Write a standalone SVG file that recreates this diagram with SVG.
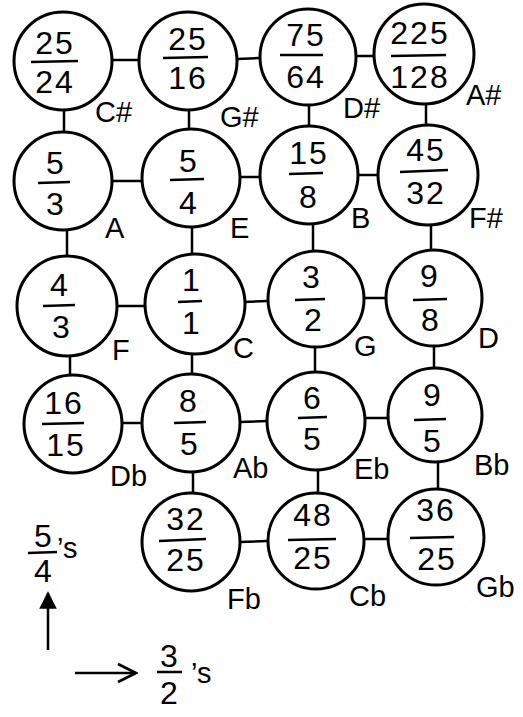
<svg xmlns="http://www.w3.org/2000/svg" width="523" height="717" viewBox="0 0 523 717">
<style>
.n circle{fill:#fff;stroke:#000;stroke-width:3}
.n line,.leg line{stroke:#000;stroke-width:2.5}
.f{font-family:"Liberation Sans",Arial,sans-serif;font-size:32px;text-anchor:middle;fill:#000;letter-spacing:2px}
.l{font-family:"Liberation Sans",Arial,sans-serif;font-size:29px;fill:#000}
#edges line{stroke:#000;stroke-width:2.5}
</style>
<defs>
<marker id="tri" viewBox="0 0 10 10" refX="9" refY="5" markerWidth="7" markerHeight="7" orient="auto" markerUnits="strokeWidth">
<path d="M0,0 L10,5 L0,10 Z" fill="#000"/>
</marker>
<marker id="open" viewBox="0 0 10 10" refX="9" refY="5" markerWidth="9" markerHeight="9" orient="auto" markerUnits="strokeWidth">
<path d="M1,1 L9,5 L1,9" fill="none" stroke="#000" stroke-width="1.2"/>
</marker>
</defs>
<rect width="523" height="717" fill="#fff"/>
<g id="edges">
<line x1="112" y1="60" x2="139" y2="60"/>
<line x1="237" y1="59" x2="259" y2="58"/>
<line x1="357" y1="56" x2="375" y2="56"/>
<line x1="112" y1="181" x2="142" y2="181"/>
<line x1="240" y1="177" x2="260" y2="177"/>
<line x1="358" y1="175" x2="379" y2="175"/>
<line x1="116" y1="306" x2="146" y2="306"/>
<line x1="244" y1="302" x2="267" y2="301"/>
<line x1="365" y1="298" x2="385" y2="298"/>
<line x1="122" y1="423" x2="142" y2="423"/>
<line x1="240" y1="422" x2="267" y2="421"/>
<line x1="365" y1="418" x2="388" y2="418"/>
<line x1="240" y1="542" x2="267" y2="541"/>
<line x1="364" y1="539" x2="388" y2="539"/>
<line x1="64" y1="109" x2="64" y2="133"/>
<line x1="67" y1="229" x2="67" y2="257"/>
<line x1="70" y1="354" x2="70" y2="376"/>
<line x1="189" y1="109" x2="189" y2="130"/>
<line x1="192" y1="226" x2="192" y2="256"/>
<line x1="192" y1="352" x2="192" y2="375"/>
<line x1="193" y1="471" x2="193" y2="494"/>
<line x1="309" y1="105" x2="309" y2="127"/>
<line x1="313" y1="223" x2="313" y2="251"/>
<line x1="315" y1="347" x2="315" y2="373"/>
<line x1="318" y1="469" x2="318" y2="493"/>
<line x1="426" y1="102" x2="426" y2="126"/>
<line x1="431" y1="223" x2="431" y2="250"/>
<line x1="434" y1="345" x2="434" y2="368"/>
<line x1="438" y1="462" x2="438" y2="490"/>
</g>
<g id="n-25-24" class="n"><circle cx="63" cy="61" r="49"/><text class="f" x="55" y="54">25</text><line x1="31" y1="62" x2="78" y2="61"/><text class="f" x="55" y="93">24</text><text class="l" x="95" y="122">C#</text></g>
<g id="n-25-16" class="n"><circle cx="188" cy="61" r="49"/><text class="f" x="188" y="50">25</text><line x1="163" y1="58" x2="208" y2="57"/><text class="f" x="188" y="89">16</text><text class="l" x="220" y="127">G#</text></g>
<g id="n-75-64" class="n"><circle cx="308" cy="57" r="48"/><text class="f" x="306" y="46">75</text><line x1="280" y1="55" x2="323" y2="55"/><text class="f" x="306" y="88">64</text><text class="l" x="343" y="118">D#</text></g>
<g id="n-225-128" class="n"><circle cx="424" cy="54" r="50"/><text class="f" x="420" y="44">225</text><line x1="391" y1="56" x2="446" y2="55"/><text class="f" x="420" y="88">128</text><text class="l" x="466" y="105">A#</text></g>
<g id="n-5-3" class="n"><circle cx="63" cy="181" r="49"/><text class="f" x="56" y="174">5</text><line x1="38" y1="183" x2="70" y2="182"/><text class="f" x="56" y="215">3</text><text class="l" x="105" y="238">A</text></g>
<g id="n-5-4" class="n"><circle cx="191" cy="178" r="49"/><text class="f" x="189" y="172">5</text><line x1="170" y1="180" x2="204" y2="179"/><text class="f" x="189" y="214">4</text><text class="l" x="230" y="238">E</text></g>
<g id="n-15-8" class="n"><circle cx="309" cy="175" r="49"/><text class="f" x="309" y="164">15</text><line x1="289" y1="174" x2="323" y2="173"/><text class="f" x="309" y="208">8</text><text class="l" x="351" y="228">B</text></g>
<g id="n-45-32" class="n"><circle cx="428" cy="175" r="50"/><text class="f" x="426" y="161">45</text><line x1="400" y1="172" x2="448" y2="170"/><text class="f" x="426" y="204">32</text><text class="l" x="469" y="228">F#</text></g>
<g id="n-4-3" class="n"><circle cx="67" cy="306" r="50"/><text class="f" x="60" y="296">4</text><line x1="43" y1="306" x2="75" y2="305"/><text class="f" x="62" y="338">3</text><text class="l" x="112" y="360">F</text></g>
<g id="n-1-1" class="n"><circle cx="195" cy="304" r="50"/><text class="f" x="192" y="291">1</text><line x1="178" y1="302" x2="202" y2="301"/><text class="f" x="192" y="334">1</text><text class="l" x="233" y="358">C</text></g>
<g id="n-3-2" class="n"><circle cx="316" cy="299" r="48"/><text class="f" x="312" y="288">3</text><line x1="295" y1="300" x2="325" y2="299"/><text class="f" x="314" y="331">2</text><text class="l" x="354" y="356">G</text></g>
<g id="n-9-8" class="n"><circle cx="434" cy="298" r="48"/><text class="f" x="430" y="287">9</text><line x1="413" y1="300" x2="447" y2="299"/><text class="f" x="431" y="331">8</text><text class="l" x="478" y="348">D</text></g>
<g id="n-16-15" class="n"><circle cx="73" cy="424" r="49"/><text class="f" x="64" y="414">16</text><line x1="42" y1="424" x2="84" y2="423"/><text class="f" x="66" y="456">15</text><text class="l" x="110" y="486">Db</text></g>
<g id="n-8-5" class="n"><circle cx="191" cy="423" r="49"/><text class="f" x="189" y="412">8</text><line x1="174" y1="423" x2="206" y2="422"/><text class="f" x="190" y="455">5</text><text class="l" x="233" y="478">Ab</text></g>
<g id="n-6-5" class="n"><circle cx="316" cy="421" r="49"/><text class="f" x="313" y="409">6</text><line x1="298" y1="418" x2="327" y2="417"/><text class="f" x="313" y="450">5</text><text class="l" x="354" y="479">Eb</text></g>
<g id="n-9-5" class="n"><circle cx="435" cy="415" r="47"/><text class="f" x="433" y="406">9</text><line x1="414" y1="420" x2="446" y2="419"/><text class="f" x="433" y="452">5</text><text class="l" x="474" y="475">Bb</text></g>
<g id="n-32-25" class="n"><circle cx="191" cy="542" r="49"/><text class="f" x="186" y="530">32</text><line x1="159" y1="541" x2="206" y2="539"/><text class="f" x="186" y="571">25</text><text class="l" x="227" y="609">Fb</text></g>
<g id="n-48-25" class="n"><circle cx="316" cy="541" r="48"/><text class="f" x="313" y="526">48</text><line x1="288" y1="540" x2="336" y2="539"/><text class="f" x="313" y="569">25</text><text class="l" x="349" y="606">Cb</text></g>
<g id="n-36-25" class="n"><circle cx="436" cy="537" r="48"/><text class="f" x="436" y="521">36</text><line x1="410" y1="538" x2="454" y2="537"/><text class="f" x="437" y="570">25</text><text class="l" x="476" y="597">Gb</text></g>
<g id="legend" class="leg">
<text class="f" x="44" y="547">5</text>
<line x1="28" y1="553" x2="57" y2="552"/>
<text class="f" x="44" y="582">4</text>
<text class="l" x="57" y="558">’s</text>
<line x1="48" y1="650" x2="48" y2="593" marker-end="url(#tri)"/>
<line x1="75" y1="673" x2="136" y2="673" marker-end="url(#open)"/>
<text class="f" x="170" y="667">3</text>
<line x1="157" y1="672" x2="182" y2="672"/>
<text class="f" x="170" y="704">2</text>
<text class="l" x="191" y="683">’s</text>
</g>
</svg>
